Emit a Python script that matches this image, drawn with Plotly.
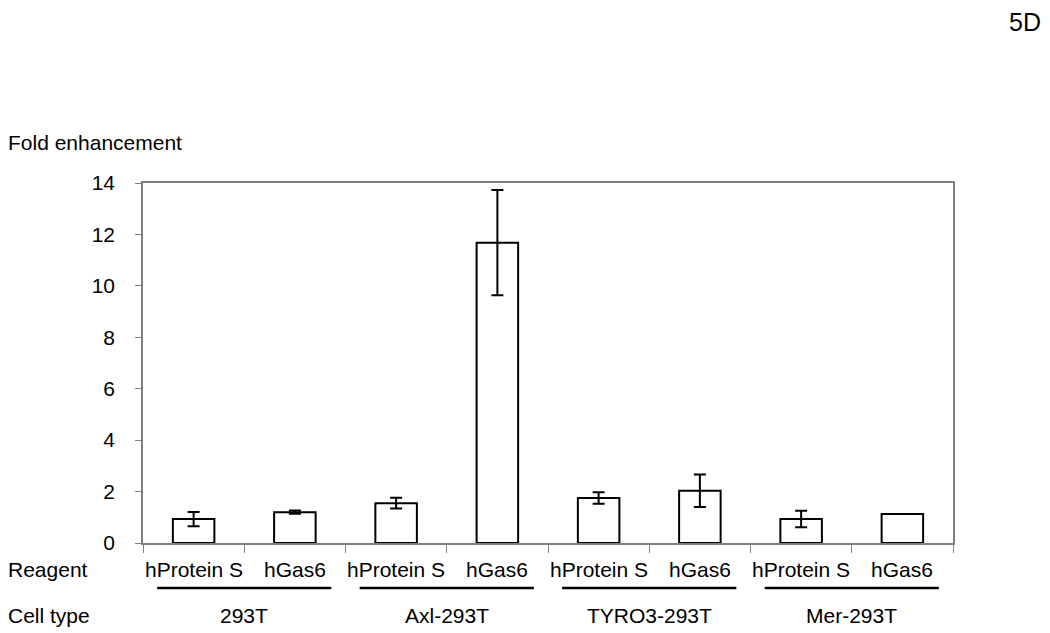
import plotly.graph_objects as go

# data
reagents = ["hProtein S", "hGas6"] * 4
cell_types = ["293T", "Axl-293T", "TYRO3-293T", "Mer-293T"]
fold = [0.93, 1.20, 1.55, 11.68, 1.75, 2.03, 0.93, 1.13]
err = [0.28, 0.06, 0.21, 2.05, 0.22, 0.63, 0.32, 0]

FONT = "Liberation Sans, Arial, sans-serif"
GRAY = "#7f7f7f"

# the page body has an 8px margin, so the figure is drawn that much smaller
OFF = 8
W, H = 1050 - OFF, 633 - OFF
L, R, T, B = 143 - OFF, 953 - OFF, 183 - OFF, 543 - OFF  # plot area in figure px

def py(v):  # page pixel y -> paper
    return (B - (v - OFF)) / (B - T)

def px(v):  # page pixel x -> paper
    return ((v - OFF) - L) / (R - L)

xpos = [i + 0.5 for i in range(len(fold))]

fig = go.Figure()
fig.add_trace(go.Bar(
    x=xpos, y=fold, width=0.41,
    marker=dict(color="white", line=dict(color="black", width=2)),
    error_y=dict(type="data", array=err, visible=True, color="black",
                 thickness=2, width=6),
    showlegend=False, hoverinfo="skip",
))

# reagent row and cell-type row below the axis
for x, r in zip(xpos, reagents):
    fig.add_annotation(x=x, y=py(569), xref="x", yref="paper", text=r,
                       showarrow=False, yanchor="middle")
for i, c in enumerate(cell_types):
    mid = 2 * i + 1
    fig.add_annotation(x=mid, y=py(615), xref="x", yref="paper", text=c,
                       showarrow=False, yanchor="middle")
    fig.add_shape(type="line", xref="x", yref="paper",
                  x0=mid - 0.86, x1=mid + 0.86, y0=py(588), y1=py(588),
                  line=dict(color="black", width=2.5))

fig.add_annotation(x=px(6), y=py(569), xref="paper", yref="paper", text="Reagent",
                   showarrow=False, xanchor="left", yanchor="middle")
fig.add_annotation(x=px(6), y=py(615), xref="paper", yref="paper", text="Cell type",
                   showarrow=False, xanchor="left", yanchor="middle")
fig.add_annotation(x=px(6), y=py(142), xref="paper", yref="paper", text="Fold enhancement",
                   showarrow=False, xanchor="left", yanchor="middle")
fig.add_annotation(x=px(1043), y=py(22), xref="paper", yref="paper", text="5D",
                   font=dict(size=25), showarrow=False, xanchor="right", yanchor="middle")

fig.update_layout(
    width=W, height=H,
    margin=dict(l=L, r=W - R, t=T, b=H - B, pad=0),
    paper_bgcolor="white", plot_bgcolor="white",
    font=dict(family=FONT, size=21, color="black"),
    xaxis=dict(range=[0, 8], tickvals=list(range(9)), showticklabels=False,
               ticks="outside", ticklen=8, tickcolor=GRAY, tickwidth=1,
               showline=True, linecolor=GRAY, linewidth=1.5, mirror=True,
               showgrid=False, zeroline=False, fixedrange=True),
    yaxis=dict(range=[0, 14], dtick=2, ticks="outside", ticklen=6,
               tickcolor=GRAY, tickwidth=1, ticklabelstandoff=16,
               tickfont=dict(size=21),
               showline=True, linecolor=GRAY, linewidth=1.5, mirror=True,
               showgrid=False, zeroline=False, fixedrange=True),
)

fig.write_html("out.html")
